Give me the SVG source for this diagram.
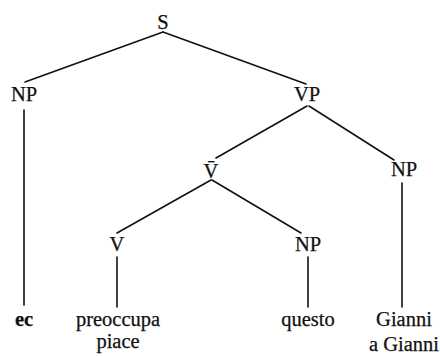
<svg xmlns="http://www.w3.org/2000/svg" width="440" height="356" viewBox="0 0 440 356">
<style>
text{font-family:"Liberation Serif","Times New Roman",serif;font-size:20.5px;fill:#111;stroke:#111;stroke-width:0.25;text-anchor:middle}
.b{font-weight:bold}
line{stroke:#111;stroke-width:1.6;stroke-linecap:round}
</style>
<rect width="440" height="356" fill="#fff"/>
<g id="connectors">
<line x1="163" y1="32" x2="25" y2="82"/>
<line x1="163" y1="32" x2="306" y2="84"/>
<line x1="24" y1="110" x2="24" y2="305"/>
<line x1="307" y1="106" x2="216" y2="158"/>
<line x1="309" y1="106" x2="394" y2="160"/>
<line x1="402" y1="183" x2="402" y2="307"/>
<line x1="211" y1="180" x2="117" y2="233"/>
<line x1="212" y1="180" x2="301" y2="233"/>
<line x1="117" y1="257" x2="117" y2="307"/>
<line x1="308" y1="257" x2="308" y2="307"/>
</g>
<g id="S"><text x="163" y="29">S</text></g>
<g id="NP1"><text x="24" y="101">NP</text></g>
<g id="VP"><text x="307" y="101">VP</text></g>
<g id="Vbar"><text x="211" y="178">V̄</text></g>
<g id="NP2"><text x="404" y="176">NP</text></g>
<g id="V"><text x="117" y="251">V</text></g>
<g id="NP3"><text x="308" y="251">NP</text></g>
<g id="ec"><text class="b" x="24" y="326">ec</text></g>
<g id="preoccupa"><text x="118" y="326">preoccupa</text><text x="118" y="348">piace</text></g>
<g id="questo"><text x="308" y="326">questo</text></g>
<g id="Gianni"><text x="404" y="326">Gianni</text><text x="404" y="351">a Gianni</text></g>
</svg>
